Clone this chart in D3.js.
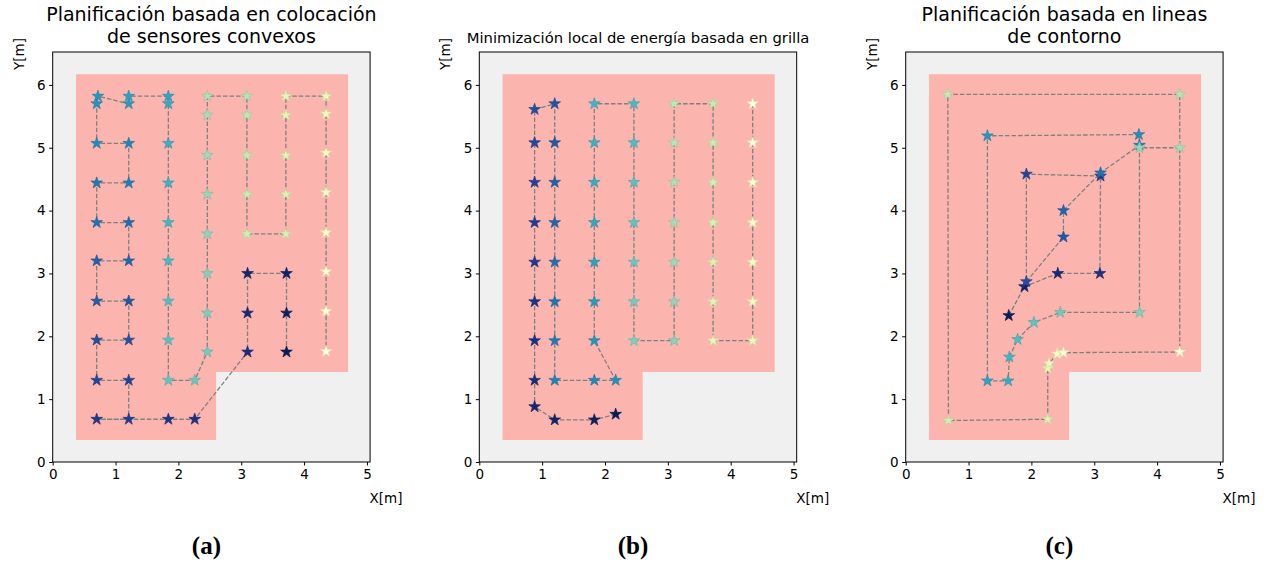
<!DOCTYPE html>
<html>
<head>
<meta charset="utf-8">
<script src="https://cdn.jsdelivr.net/npm/d3@7"></script>
<style>
  body { margin: 0; background: #ffffff; }
  svg text { font-family: "DejaVu Sans", sans-serif; fill: #000; }
</style>
</head>
<body>
<div id="chart"></div>
<script>
// tick labels
var xTicks = [0, 1, 2, 3, 4, 5];
var yTicks = [0, 1, 2, 3, 4, 5, 6];

// area to cover (pink polygon, metres)
var areaX = [0.37, 2.60, 2.60, 4.70, 4.70, 0.37];
var areaY = [0.35, 0.35, 1.43, 1.43, 6.17, 6.17];

// (a) convex sensor placement, visit order
var aX = [3.72, 3.72, 3.72, 3.10, 3.10, 3.10, 2.26, 1.84, 0.70, 1.21,
          1.21, 0.70, 0.70, 1.21, 1.21, 0.70, 0.70, 1.21, 1.21, 0.70, 0.70, 1.21, 1.21, 0.70, 0.70, 0.72, 1.21, 1.21,
          1.84, 1.84, 1.84, 1.84, 1.84, 1.84, 1.84, 1.84, 1.84, 2.26,
          2.46, 2.46, 2.46, 2.46, 2.46, 2.46, 2.46, 2.46,
          3.09, 3.09, 3.09, 3.09, 3.09,
          3.71, 3.71, 3.71, 3.71, 3.71,
          4.35, 4.35, 4.35, 4.35, 4.35, 4.35, 4.35, 4.35];
var aY = [1.75, 2.37, 3.00, 3.00, 2.37, 1.75, 0.68, 0.68, 0.68, 0.68,
          1.30, 1.30, 1.94, 1.94, 2.56, 2.56, 3.20, 3.20, 3.81, 3.81, 4.44, 4.44, 5.07, 5.07, 5.70, 5.82, 5.70, 5.82,
          5.82, 5.70, 5.07, 4.44, 3.81, 3.20, 2.56, 1.94, 1.30, 1.30,
          1.75, 2.37, 3.00, 3.63, 4.26, 4.88, 5.52, 5.82,
          5.82, 5.52, 4.88, 4.26, 3.63,
          3.63, 4.26, 4.88, 5.52, 5.82,
          5.82, 5.54, 4.92, 4.29, 3.65, 3.03, 2.40, 1.76];

// (b) local energy minimisation on grid
var bX = [2.17, 1.83, 1.20, 0.88,
          0.88, 0.88, 0.88, 0.88, 0.88, 0.88, 0.88, 0.88,
          1.20, 1.20, 1.20, 1.20, 1.20, 1.20, 1.20, 1.20,
          1.83, 2.17,
          1.83, 1.83, 1.83, 1.83, 1.83, 1.83, 1.83,
          2.46, 2.46, 2.46, 2.46, 2.46, 2.46, 2.46,
          3.10, 3.10, 3.10, 3.10, 3.10, 3.10, 3.10,
          3.72, 3.72, 3.72, 3.72, 3.72, 3.72, 3.72,
          4.35, 4.35, 4.35, 4.35, 4.35, 4.35, 4.35];
var bY = [0.76, 0.67, 0.67, 0.88,
          1.30, 1.93, 2.55, 3.18, 3.81, 4.45, 5.08, 5.61,
          5.70, 5.08, 4.45, 3.81, 3.18, 2.55, 1.93, 1.30,
          1.30, 1.30,
          1.93, 2.55, 3.18, 3.81, 4.45, 5.08, 5.70,
          5.70, 5.08, 4.45, 3.81, 3.18, 2.55, 1.93,
          1.93, 2.55, 3.18, 3.81, 4.45, 5.08, 5.70,
          5.70, 5.08, 4.45, 3.81, 3.18, 2.55, 1.93,
          1.93, 2.55, 3.18, 3.81, 4.45, 5.08, 5.70];

// (c) contour lines
var cX = [1.64, 1.89, 2.42, 3.09, 3.10, 1.92, 1.92, 2.51, 2.51, 3.10, 3.72, 3.71,
          1.30, 1.30, 1.63, 1.65, 1.78, 2.04, 2.46, 3.72, 3.72,
          4.36, 4.36, 0.67, 0.68, 2.26, 2.26, 2.28, 2.41, 2.51, 4.36];
var cY = [2.33, 2.79, 3.00, 3.00, 4.55, 4.58, 2.87, 3.58, 4.00, 4.60, 5.04, 5.21,
          5.19, 1.29, 1.29, 1.67, 1.95, 2.22, 2.38, 2.38, 5.00,
          5.00, 5.85, 5.85, 0.66, 0.68, 1.49, 1.57, 1.72, 1.74, 1.75];
// the outer contour closes back on itself
var cCloseX = [4.36];
var cCloseY = [5.00];

var titles = [
    ['Planificación basada en colocación', 'de sensores convexos'],
    ['Minimización local de energía basada en grilla'],
    ['Planificación basada en lineas', 'de contorno']
];
var captions = ['(a)', '(b)', '(c)'];

var panels = [
    { xs: aX, ys: aY, lx: aX, ly: aY },
    { xs: bX, ys: bY, lx: bX, ly: bY },
    { xs: cX, ys: cY, lx: cX.concat(cCloseX), ly: cY.concat(cCloseY) }
];

var svgWidth = 1268, svgHeight = 562;
var svg = d3.select('#chart').append('svg')
    .attr('width', svgWidth)
    .attr('height', svgHeight);

var axLeft = [52.7, 479.3, 905.7];
var axTop = 52, axBottom = 462;
var unit = 62.85;
var xMax = 5.05, yMax = (axBottom - axTop) / unit;

panels.forEach(function (p, k) {
    var left = axLeft[k];
    var w = xMax * unit;

    var x = d3.scaleLinear().domain([0, xMax]).range([left, left + w]);
    var y = d3.scaleLinear().domain([0, yMax]).range([axBottom, axTop]);

    var g = svg.append('g');

    // axes face
    g.append('rect')
        .attr('x', left).attr('y', axTop)
        .attr('width', w).attr('height', axBottom - axTop)
        .attr('fill', '#f0f0f0');

    // area polygon
    var area = areaX.map(function (v, i) { return [x(v), y(areaY[i])]; });
    g.append('polygon')
        .attr('points', area.map(function (d) { return d.join(','); }).join(' '))
        .attr('fill', '#fbb4ae');

    // path line
    var lineData = p.lx.map(function (v, i) { return [v, p.ly[i]]; });
    var line = d3.line().x(function (d) { return x(d[0]); }).y(function (d) { return y(d[1]); });
    g.append('path')
        .attr('d', line(lineData))
        .attr('fill', 'none')
        .attr('stroke', '#808080')
        .attr('stroke-width', 1.3)
        .attr('stroke-dasharray', '4.5,2');

    // stars, coloured by visit order
    var n = p.xs.length;
    var pts = p.xs.map(function (v, i) { return { x: v, y: p.ys[i], i: i }; });
    var star = d3.symbol().type(d3.symbolStar).size(42);
    g.selectAll('path.star')
        .data(pts)
        .enter().append('path')
        .attr('class', 'star')
        .attr('d', star)
        .attr('transform', function (d) { return 'translate(' + x(d.x) + ',' + y(d.y) + ')'; })
        .attr('fill', function (d) { return d3.interpolateYlGnBu(1 - d.i / (n - 1)); })
        .attr('stroke', function (d) { return d3.color(d3.interpolateYlGnBu(1 - d.i / (n - 1))).darker(0.35); })
        .attr('stroke-width', 0.7);

    // spines
    g.append('rect')
        .attr('x', left).attr('y', axTop)
        .attr('width', w).attr('height', axBottom - axTop)
        .attr('fill', 'none')
        .attr('stroke', '#000')
        .attr('stroke-width', 1);

    // axes
    var xAxis = d3.axisBottom(x).tickValues(xTicks).tickSize(3.5).tickPadding(3.5).tickFormat(d3.format('d'));
    var yAxis = d3.axisLeft(y).tickValues(yTicks).tickSize(3.5).tickPadding(3.5).tickFormat(d3.format('d'));

    var gx = g.append('g').attr('transform', 'translate(0,' + axBottom + ')').call(xAxis);
    var gy = g.append('g').attr('transform', 'translate(' + left + ',0)').call(yAxis);
    [gx, gy].forEach(function (a) {
        a.select('.domain').remove();
        a.selectAll('line').attr('stroke', '#000').attr('stroke-width', 1);
        a.selectAll('text')
            .style('font-family', '"DejaVu Sans", sans-serif')
            .style('font-size', '13.5px')
            .attr('fill', '#000');
    });

    // axis labels
    g.append('text')
        .attr('x', left + w + 16)
        .attr('y', 503)
        .attr('text-anchor', 'middle')
        .style('font-size', '13.5px')
        .text('X[m]');
    g.append('text')
        .attr('transform', 'translate(' + (left - 29) + ',' + 54 + ') rotate(-90)')
        .attr('text-anchor', 'middle')
        .style('font-size', '13.5px')
        .text('Y[m]');

    // title
    var t = titles[k];
    if (t.length === 2) {
        t.forEach(function (s, j) {
            g.append('text')
                .attr('x', left + w / 2)
                .attr('y', 21 + j * 21.5)
                .attr('text-anchor', 'middle')
                .style('font-size', '19px')
                .text(s);
        });
    } else {
        g.append('text')
            .attr('x', left + w / 2)
            .attr('y', 43)
            .attr('text-anchor', 'middle')
            .style('font-size', '14.8px')
            .text(t[0]);
    }

    // caption
    g.append('text')
        .attr('x', left + w / 2 - 5)
        .attr('y', 554)
        .attr('text-anchor', 'middle')
        .style('font-family', '"Liberation Serif", "Times New Roman", serif')
        .style('font-weight', 'bold')
        .style('font-size', '25px')
        .text(captions[k]);
});
</script>
</body>
</html>
